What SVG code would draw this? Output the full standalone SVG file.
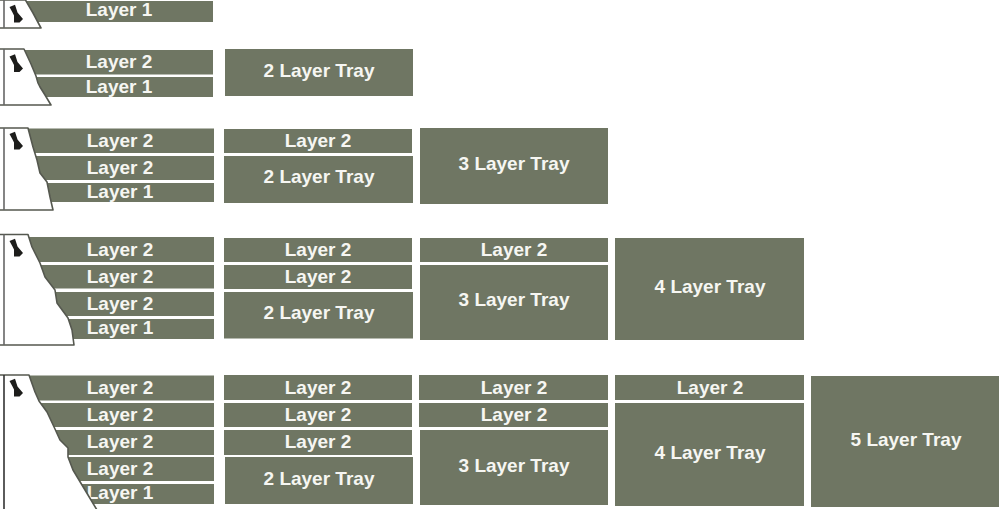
<svg xmlns="http://www.w3.org/2000/svg" width="999" height="509" viewBox="0 0 999 509">
<defs>
<path id="knob" d="M-6-7.500L-0.500-9.700L2-2L7.500 4.500L4 8L-1.500 8L-1.500 1L-3-2Z"/>
</defs>
<style>
.b{fill:#6f7663}
text{font-family:"Liberation Sans",Arial,sans-serif;font-weight:700;font-size:19px;fill:#f6f6f2;text-anchor:middle}
.s{fill:#fff;stroke:#55584f;stroke-width:1.600;stroke-linejoin:round}
.v{stroke:#666;stroke-width:1.600;fill:none}
.k{fill:#1d1d1b}
</style>
<rect width="999" height="509" fill="#fff"/>
<g id="row1">
<rect class="b" x="12" y="1" width="201" height="21"/>
<path class="s" d="M-2 0H25.500L33 13L41 28H-2Z"/><path class="v" d="M4 0V28"/><use href="#knob" class="k" x="15.500" y="14.500"/>
<text x="119" y="16">Layer 1</text>
</g>
<g id="row2">
<rect class="b" x="12" y="50" width="201" height="24.500"/><rect class="b" x="12" y="77" width="201" height="20"/>
<path class="s" d="M-2 49H24L31 64L36 76L38 83L40 87L45 95L51 105H-2Z"/><path class="v" d="M4 49V105"/><use href="#knob" class="k" x="15.500" y="64"/>
<text x="119" y="68">Layer 2</text><text x="119" y="93">Layer 1</text>
</g>
<g id="tray2"><rect class="b" x="225" y="49" width="188" height="47"/><text x="319" y="77">2 Layer Tray</text></g>
<g id="row3">
<rect class="b" x="12" y="128.500" width="202" height="24.500"/><rect class="b" x="12" y="156" width="202" height="24"/><rect class="b" x="12" y="183" width="202" height="19"/>
<path class="s" d="M-2 128H28L33 147L37 160L40 173L47 182L50 197L53 210H-2Z"/><path class="v" d="M4 128V210"/><use href="#knob" class="k" x="15.500" y="141.500"/>
<text x="120" y="147">Layer 2</text><text x="120" y="174">Layer 2</text><text x="120" y="198">Layer 1</text>
</g>
<g id="row3col2"><rect class="b" x="224" y="129" width="188" height="24"/><text x="318" y="147">Layer 2</text>
<rect class="b" x="224" y="156" width="189" height="47"/><text x="319" y="183">2 Layer Tray</text></g>
<g id="tray3"><rect class="b" x="420" y="128" width="188" height="76"/><text x="514" y="170">3 Layer Tray</text></g>
<g id="row4">
<rect class="b" x="12" y="237" width="202" height="25"/><rect class="b" x="12" y="265" width="202" height="23.500"/><rect class="b" x="12" y="292" width="202" height="24"/><rect class="b" x="12" y="319" width="202" height="20"/>
<path class="s" d="M-2 234.500H28L32 247L40 263L45 277L55 290L57 303L68 318L72 330L74 345H-2Z"/><path class="v" d="M4 234.500V345"/><use href="#knob" class="k" x="15.500" y="248.500"/>
<text x="120" y="256">Layer 2</text><text x="120" y="283">Layer 2</text><text x="120" y="310">Layer 2</text><text x="120" y="334">Layer 1</text>
</g>
<g id="row4col2"><rect class="b" x="224" y="238" width="188" height="24"/><text x="318" y="256">Layer 2</text>
<rect class="b" x="224" y="265" width="188" height="24"/><text x="318" y="283">Layer 2</text>
<rect class="b" x="224" y="292" width="189" height="46.500"/><text x="319" y="319">2 Layer Tray</text></g>
<g id="row4col3"><rect class="b" x="420" y="238" width="188" height="24"/><text x="514" y="256">Layer 2</text>
<rect class="b" x="420" y="265" width="188" height="75"/><text x="514" y="306">3 Layer Tray</text></g>
<g id="tray4"><rect class="b" x="615" y="238" width="189" height="102"/><text x="710" y="293">4 Layer Tray</text></g>
<g id="row5">
<rect class="b" x="12" y="375.500" width="202" height="25"/><rect class="b" x="12" y="403" width="202" height="24"/><rect class="b" x="12" y="430" width="202" height="25"/><rect class="b" x="12" y="457" width="202" height="24"/><rect class="b" x="12" y="484" width="202" height="20"/>
<text x="120" y="499">Layer 1</text>
<path class="s" d="M-2 375H29L35 392L39 401L47 412L55 429L60 440L68 448L68 457L73 470L82 485L88 495L97 510H-2Z"/><path class="v" d="M4 375V509" style="stroke:#333"/><use href="#knob" class="k" x="15.500" y="388.500"/>
<text x="120" y="394">Layer 2</text><text x="120" y="421">Layer 2</text><text x="120" y="448">Layer 2</text><text x="120" y="475">Layer 2</text>
</g>
<g id="row5col2"><rect class="b" x="224" y="375" width="188" height="25"/><text x="318" y="394">Layer 2</text>
<rect class="b" x="224" y="403" width="188" height="24"/><text x="318" y="421">Layer 2</text>
<rect class="b" x="224" y="430" width="188" height="25"/><text x="318" y="448">Layer 2</text>
<rect class="b" x="225" y="457" width="188" height="47"/><text x="319" y="485">2 Layer Tray</text></g>
<g id="row5col3"><rect class="b" x="419" y="375" width="189" height="25"/><text x="514" y="394">Layer 2</text>
<rect class="b" x="419" y="403" width="189" height="24"/><text x="514" y="421">Layer 2</text>
<rect class="b" x="420" y="430" width="188" height="75"/><text x="514" y="472">3 Layer Tray</text></g>
<g id="row5col4"><rect class="b" x="615" y="375" width="189" height="25"/><text x="710" y="394">Layer 2</text>
<rect class="b" x="615" y="403" width="189" height="103"/><text x="710" y="459">4 Layer Tray</text></g>
<g id="tray5"><rect class="b" x="811" y="376" width="188" height="131"/><text x="906" y="446">5 Layer Tray</text></g>
<g id="connectors"/>
</svg>
